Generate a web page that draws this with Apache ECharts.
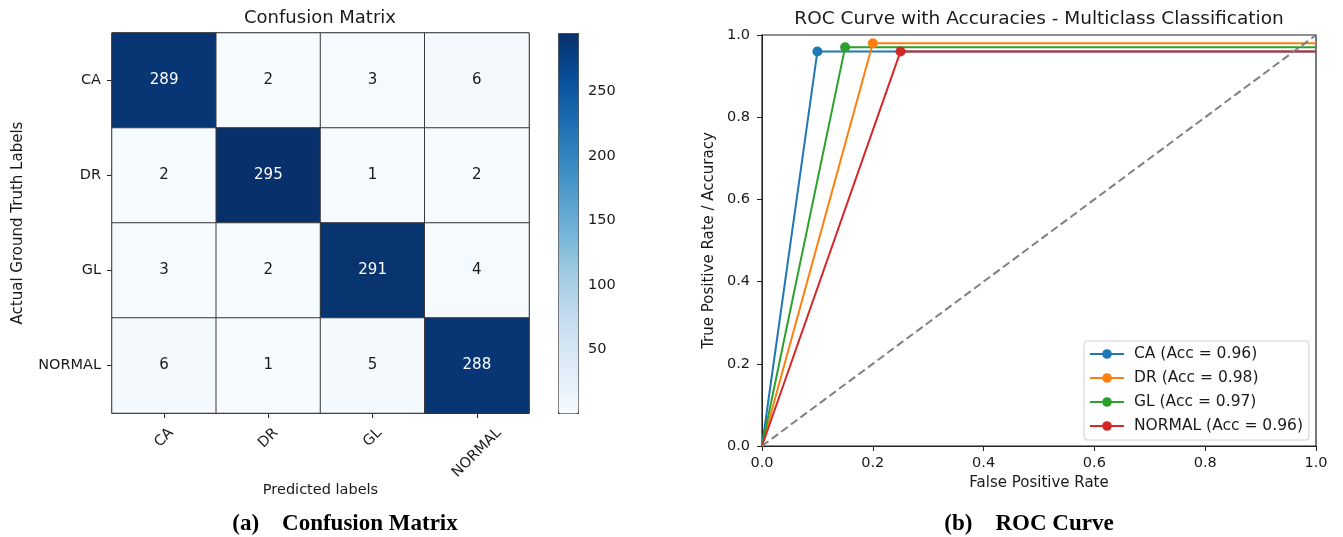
<!DOCTYPE html>
<html><head><meta charset="utf-8">
<script src="https://cdn.jsdelivr.net/npm/echarts@6/dist/echarts.min.js"></script>
<style>html,body{margin:0;padding:0;background:#fff}#c{width:1343px;height:537px}</style>
</head><body><div id="c"></div>
<script>
// ---- data ----
const classes = ['CA', 'DR', 'GL', 'NORMAL'];
const cmRowCA = [289, 2, 3, 6];
const cmRowDR = [2, 295, 1, 2];
const cmRowGL = [3, 2, 291, 4];
const cmRowNORMAL = [6, 1, 5, 288];
const colorbarTicks = [50, 100, 150, 200, 250];
const rocFpr = [0.10, 0.20, 0.15, 0.25];
const rocAcc = [0.96, 0.98, 0.97, 0.96];
const rocColors = ['#1f77b4', '#ff7f0e', '#2ca02c', '#d62728'];
const blues = ['#f7fbff', '#deebf7', '#c6dbef', '#9ecae1', '#6baed6', '#4292c6', '#2171b5', '#08519c', '#08306b'];

const FONT = '"DejaVu Sans", Verdana, sans-serif';
const TXT = '#1a1a1a';
const tickFs = 14.5, nameFs = 15;
const cmRows = [cmRowCA, cmRowDR, cmRowGL, cmRowNORMAL];
const allVals = cmRows.flat();
const vMin = Math.min(...allVals), vMax = Math.max(...allVals);

const heatData = [];
cmRows.forEach((row, r) => row.forEach((v, c) => {
  heatData.push({ value: [c, r, v], label: { color: v > (vMin + vMax) / 2 ? '#ffffff' : TXT } });
}));

const chart = echarts.init(document.getElementById('c'), null, { renderer: 'canvas' });
const axisLineStyle = { show: true, lineStyle: { color: '#222', width: 1 } };
const tickStyle = { show: true, inside: false, length: 5, lineStyle: { color: '#222', width: 1 } };

// matplotlib-style 45° labels, centred under their tick: one label per axis layer
const ctx = document.createElement('canvas').getContext('2d');
ctx.font = tickFs + 'px ' + FONT;
const cmXAxes = classes.map((c, k) => {
  const w = ctx.measureText(c).width;
  const margin = 12.5 + (w + tickFs) * 0.3536;
  const base = {
    gridIndex: 0, type: 'category', data: classes, position: 'bottom',
    axisLabel: { rotate: 45, align: 'center', verticalAlign: 'middle', margin: margin,
      fontSize: tickFs, color: TXT, fontFamily: FONT, interval: 0,
      formatter: (v, idx) => (idx === k ? v : '') },
    splitLine: { show: false }
  };
  if (k === 0) {
    return Object.assign(base, {
      axisLine: axisLineStyle, axisTick: Object.assign({ alignWithLabel: true }, tickStyle),
      name: 'Predicted labels', nameLocation: 'middle', nameGap: 70, nameMoveOverlap: false,
      nameTextStyle: { fontSize: 14.5, color: TXT, fontFamily: FONT }
    });
  }
  return Object.assign(base, { axisLine: { show: false }, axisTick: { show: false } });
});
const rocX = cmXAxes.length, cbX = cmXAxes.length + 1;

const option = {
  animation: false,
  textStyle: { fontFamily: FONT, color: TXT },
  grid: [
    { left: 112, top: 33, width: 417, height: 380, show: true, borderColor: '#222', borderWidth: 1, backgroundColor: 'transparent' },
    { left: 762, top: 35, width: 554, height: 411, show: true, borderColor: '#222', borderWidth: 1.2, backgroundColor: 'transparent' },
    { left: 558, top: 33, width: 20, height: 380, show: false }
  ],
  xAxis: [
    ...cmXAxes,
    { gridIndex: 1, type: 'value', min: 0, max: 1, interval: 0.2,
      axisLine: axisLineStyle, axisTick: tickStyle,
      axisLabel: { margin: 10, fontSize: tickFs, color: TXT, formatter: v => v.toFixed(1) },
      splitLine: { show: false },
      name: 'False Positive Rate', nameLocation: 'middle', nameGap: 30, nameMoveOverlap: false,
      nameTextStyle: { fontSize: nameFs, color: TXT, fontFamily: FONT } },
    { gridIndex: 2, type: 'value', show: false, min: 0, max: 1 }
  ],
  yAxis: [
    { gridIndex: 0, type: 'category', data: classes, inverse: true,
      axisLine: axisLineStyle, axisTick: Object.assign({ alignWithLabel: true }, tickStyle),
      axisLabel: { margin: 11, fontSize: tickFs, color: TXT },
      splitLine: { show: false },
      name: 'Actual Ground Truth Labels', nameLocation: 'middle', nameGap: 86, nameMoveOverlap: false,
      nameTextStyle: { fontSize: nameFs, color: TXT, fontFamily: FONT } },
    { gridIndex: 1, type: 'value', min: 0, max: 1, interval: 0.2,
      axisLine: axisLineStyle, axisTick: tickStyle,
      axisLabel: { margin: 12, fontSize: tickFs, color: TXT, formatter: v => v.toFixed(1) },
      splitLine: { show: false },
      name: 'True Positive Rate / Accuracy', nameLocation: 'middle', nameGap: 45, nameMoveOverlap: false,
      nameTextStyle: { fontSize: nameFs, color: TXT, fontFamily: FONT } },
    { gridIndex: 2, type: 'value', position: 'right', min: vMin, max: vMax,
      axisLine: { show: false },
      axisTick: { show: true, length: 4, lineStyle: { color: '#222' }, customValues: colorbarTicks },
      axisLabel: { margin: 10, fontSize: tickFs, color: TXT, customValues: colorbarTicks },
      splitLine: { show: false } }
  ],
  visualMap: {
    type: 'continuous', seriesIndex: 0, dimension: 2, min: vMin, max: vMax,
    calculable: false, hoverLink: false, realtime: false,
    left: 558, top: 33, itemWidth: 20, itemHeight: 380, padding: 0,
    borderColor: '#333', borderWidth: 1,
    inRange: { color: blues }, text: null, showLabel: false
  },
  legend: {
    data: classes.map((c, i) => `${c} (Acc = ${rocAcc[i].toFixed(2)})`),
    orient: 'vertical', left: 1084, top: 341,
    padding: [5, 6, 6, 5], itemGap: 8, itemWidth: 34, itemHeight: 12,
    borderColor: '#d0d0d0', borderWidth: 1, borderRadius: 3, backgroundColor: 'rgba(255,255,255,0.85)',
    selectedMode: false,
    textStyle: { fontSize: 15.5, color: TXT, fontFamily: FONT, padding: [0, 0, 0, 5] }
  },
  series: [
    { type: 'heatmap', xAxisIndex: 0, yAxisIndex: 0, data: heatData,
      itemStyle: { borderColor: '#3a3a3a', borderWidth: 1 },
      label: { show: true, fontSize: 15, fontFamily: FONT, formatter: p => String(p.value[2]) },
      emphasis: { disabled: true } },
    ...classes.map((c, i) => ({
      type: 'line', name: `${c} (Acc = ${rocAcc[i].toFixed(2)})`, xAxisIndex: rocX, yAxisIndex: 1,
      data: [[0, 0], [rocFpr[i], rocAcc[i]], [1, rocAcc[i]]],
      symbol: 'circle', symbolSize: (v, p) => (p.dataIndex === 1 ? 10 : 0), showAllSymbol: true,
      lineStyle: { width: 2, color: rocColors[i] }, itemStyle: { color: rocColors[i] },
      emphasis: { disabled: true }, silent: true
    })),
    { type: 'line', xAxisIndex: rocX, yAxisIndex: 1, data: [[0, 0], [1, 1]], symbol: 'none',
      lineStyle: { width: 2, color: '#808080', type: [8, 4] }, silent: true, z: 3 }
  ],
  graphic: [
    { type: 'text', x: 320, y: 18, style: { text: 'Confusion Matrix', font: '18px ' + FONT, fill: TXT, textAlign: 'center', textVerticalAlign: 'middle' } },
    { type: 'text', x: 1039, y: 19, style: { text: 'ROC Curve with Accuracies - Multiclass Classification', font: '18.5px ' + FONT, fill: TXT, textAlign: 'center', textVerticalAlign: 'middle' } },
    { type: 'text', x: 345, y: 524, style: { text: '(a)    Confusion Matrix', font: 'bold 23px "Liberation Serif", "Times New Roman", serif', fill: '#000', textAlign: 'center', textVerticalAlign: 'middle' } },
    { type: 'text', x: 1029, y: 524, style: { text: '(b)    ROC Curve', font: 'bold 23px "Liberation Serif", "Times New Roman", serif', fill: '#000', textAlign: 'center', textVerticalAlign: 'middle' } }
  ]
};
chart.setOption(option);
</script>
</body></html>
